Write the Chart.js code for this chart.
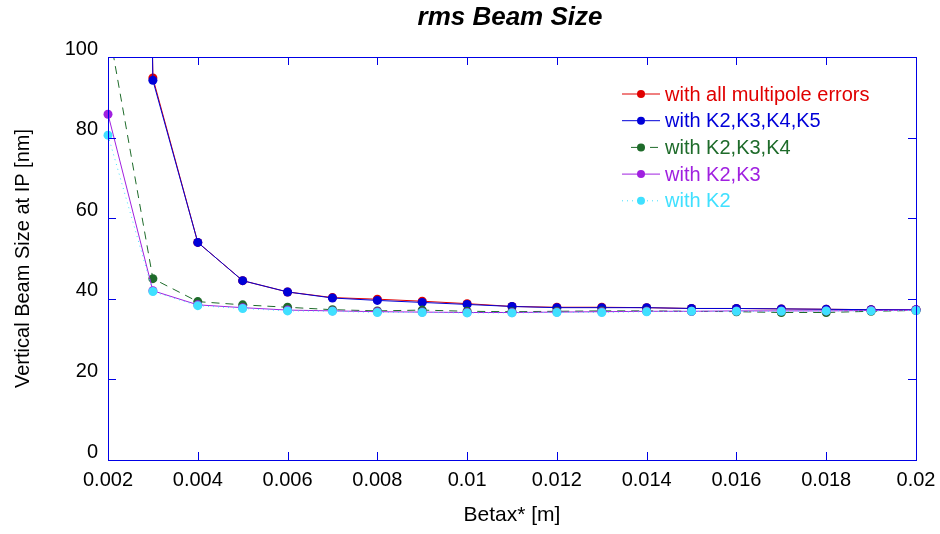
<!DOCTYPE html>
<html>
<head>
<meta charset="utf-8">
<script src="https://cdn.jsdelivr.net/npm/chart.js@4"></script>
<style>
  body { margin: 0; background: #fff; }
  #wrap { width: 940px; height: 534px; }
</style>
</head>
<body>
<div id="wrap"><canvas id="beamChart" width="940" height="534"></canvas></div>
<script>
// Betax* values [m]
const betax = [0.002, 0.003, 0.004, 0.005, 0.006, 0.007, 0.008, 0.009, 0.010, 0.011,
               0.012, 0.013, 0.014, 0.015, 0.016, 0.017, 0.018, 0.019, 0.020];

// vertical rms beam size [nm] (first points of the top two curves run off the plot)
const allErrors = [800, 94.8, 54.0, 44.5, 41.7, 40.3, 39.9, 39.4, 38.8, 38.1, 37.9, 37.9, 37.8, 37.6, 37.6, 37.5, 37.4, 37.3, 37.3];
const k2k3k4k5  = [800, 94.2, 54.0, 44.5, 41.7, 40.2, 39.6, 39.1, 38.6, 38.1, 37.8, 37.8, 37.8, 37.6, 37.6, 37.5, 37.4, 37.3, 37.3];
const k2k3k4    = [108, 45.0, 39.3, 38.5, 37.9, 37.3, 37.0, 37.2, 36.9, 36.8, 36.9, 37.0, 37.0, 36.9, 36.8, 36.6, 36.6, 36.9, 37.1];
const k2k3      = [85.8, 42.0, 38.5, 37.8, 37.2, 37.0, 36.8, 36.7, 36.6, 36.6, 36.7, 36.8, 36.9, 36.9, 37.0, 37.0, 37.0, 37.1, 37.2];
const k2        = [80.6, 41.8, 38.3, 37.6, 37.0, 36.9, 36.6, 36.6, 36.5, 36.5, 36.6, 36.6, 36.8, 36.9, 36.9, 36.9, 37.0, 37.0, 37.1];

const xTicks = [0.002, 0.004, 0.006, 0.008, 0.010, 0.012, 0.014, 0.016, 0.018, 0.020];
const yTicks = [0, 20, 40, 60, 80, 100];

const FONT = '"Liberation Sans", Arial, sans-serif';
const AXIS_BLUE = '#0000e6';

function toPoints(ys) {
    return betax.map((x, i) => ({ x: x, y: ys[i] }));
}

function series(label, ys, color, dash, order) {
    return {
        label: label,
        data: toPoints(ys),
        borderColor: color,
        backgroundColor: color,
        borderWidth: 1,
        borderDash: dash,
        pointRadius: 4.5,
        pointBorderWidth: 0,
        pointHoverRadius: 4.5,
        order: order,
        clip: { left: 6, top: 0, right: 6, bottom: 6 },
        legendDash: dash
    };
}

// frame with inward ticks, title and the in-plot legend
const framePlugin = {
    id: 'frame',
    afterDraw(chart) {
        const ctx = chart.ctx;
        const a = chart.chartArea;
        const xs = chart.scales.x, ys = chart.scales.y;
        ctx.save();
        ctx.strokeStyle = AXIS_BLUE;
        ctx.lineWidth = 1;
        ctx.strokeRect(a.left + 0.5, a.top + 0.5, a.right - a.left, a.bottom - a.top);
        ctx.beginPath();
        xTicks.forEach(v => {
            const px = Math.round(xs.getPixelForValue(v)) + 0.5;
            ctx.moveTo(px, a.bottom); ctx.lineTo(px, a.bottom - 8);
            ctx.moveTo(px, a.top); ctx.lineTo(px, a.top + 8);
        });
        yTicks.forEach(v => {
            const py = Math.round(ys.getPixelForValue(v)) + 0.5;
            ctx.moveTo(a.left, py); ctx.lineTo(a.left + 8, py);
            ctx.moveTo(a.right, py); ctx.lineTo(a.right - 8, py);
        });
        ctx.stroke();

        // title
        ctx.fillStyle = '#000';
        ctx.font = 'italic bold 26px ' + FONT;
        ctx.textAlign = 'center';
        ctx.textBaseline = 'middle';
        ctx.fillText('rms Beam Size', (a.left + a.right) / 2 - 2, 18);

        // legend
        ctx.font = '20px ' + FONT;
        ctx.textAlign = 'left';
        chart.data.datasets.forEach((ds, i) => {
            const y = 94 + i * 26.7;
            ctx.strokeStyle = ds.borderColor;
            ctx.fillStyle = ds.borderColor;
            ctx.setLineDash(ds.legendDash);
            ctx.beginPath();
            if (ds.legendDash.length && ds.legendDash[0] > 2) {
                ctx.moveTo(631, y); ctx.lineTo(639, y);
                ctx.moveTo(650, y); ctx.lineTo(658, y);
            } else {
                ctx.moveTo(622, y); ctx.lineTo(660, y);
            }
            ctx.stroke();
            ctx.setLineDash([]);
            ctx.beginPath();
            ctx.arc(641, y, 4, 0, Math.PI * 2);
            ctx.fill();
            ctx.fillText(ds.label, 665, y + 1);
        });
        ctx.restore();
    }
};

const ctx = document.getElementById('beamChart').getContext('2d');
const beamChart = new Chart(ctx, {
    type: 'line',
    data: {
        datasets: [
            series('with all multipole errors', allErrors, '#e00000', [], 5),
            series('with K2,K3,K4,K5', k2k3k4k5, '#0000d8', [], 4),
            series('with K2,K3,K4', k2k3k4, '#1e6b2a', [8, 6], 3),
            series('with K2,K3', k2k3, '#a020e0', [], 2),
            series('with K2', k2, '#40e0ff', [1, 4], 1)
        ]
    },
    options: {
        responsive: false,
        animation: false,
        events: [],
        layout: { padding: { top: 57, right: 24, left: 0, bottom: 0 } },
        plugins: {
            legend: { display: false },
            title: { display: false },
            tooltip: { enabled: false }
        },
        scales: {
            x: {
                type: 'linear',
                min: 0.002,
                max: 0.02,
                afterBuildTicks: s => { s.ticks = xTicks.map(v => ({ value: v })); },
                afterFit: s => { s.height = 74; s.paddingLeft = 0; s.paddingRight = 0; },
                grid: { drawOnChartArea: false, drawTicks: false },
                border: { display: false },
                ticks: {
                    color: '#000',
                    padding: 8,
                    font: { family: FONT, size: 20 },
                    maxRotation: 0,
                    callback: v => String(+v.toFixed(3))
                },
                title: {
                    display: true,
                    text: 'Betax* [m]',
                    color: '#000',
                    font: { family: FONT, size: 21 },
                    padding: { top: 0, bottom: 6 }
                }
            },
            y: {
                min: 0,
                max: 100,
                afterBuildTicks: s => { s.ticks = yTicks.map(v => ({ value: v })); },
                afterFit: s => { s.width = 108; s.paddingTop = 0; s.paddingBottom = 0; },
                grid: { drawOnChartArea: false, drawTicks: false },
                border: { display: false },
                ticks: {
                    color: '#000',
                    padding: 10,
                    labelOffset: -8,
                    font: { family: FONT, size: 20 }
                },
                title: {
                    display: true,
                    text: 'Vertical Beam Size at IP [nm]',
                    color: '#000',
                    font: { family: FONT, size: 20 },
                    padding: { top: 11, bottom: 0 }
                }
            }
        }
    },
    plugins: [framePlugin]
});
</script>
</body>
</html>
